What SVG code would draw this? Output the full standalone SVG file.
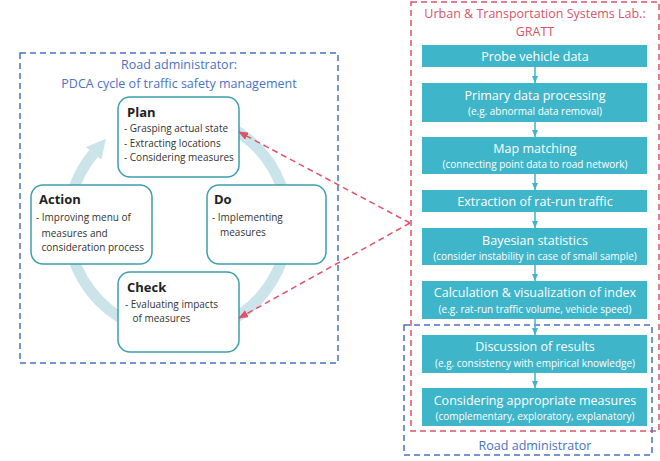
<svg xmlns="http://www.w3.org/2000/svg" width="660" height="461" viewBox="0 0 660 461">
<defs>
<style>
.t{font-family:"Open Sans","Noto Sans","Liberation Sans",sans-serif;}
.ttl{font-size:12.5px;fill:#4a72c4;text-anchor:middle;}
.rttl{font-size:12.5px;fill:#d9536a;text-anchor:middle;}
.node{fill:#fff;stroke:#3c9fae;stroke-width:1.5;}
.nh{font-size:13px;font-weight:bold;fill:#222;}
.nl{font-size:10px;fill:#333;}
.step{fill:#3fb5c9;}
.sm{font-size:12.5px;fill:#fff;text-anchor:middle;}
.ss{font-size:10px;fill:#fff;text-anchor:middle;}
.bdash{fill:none;stroke:#4a72c4;stroke-width:1.5;stroke-dasharray:6 4;}
.rdash{fill:none;stroke:#e0526a;stroke-width:1.5;stroke-dasharray:6 4;}
.sarrow{stroke:#3fb5c9;stroke-width:1.5;fill:none;}
</style>
<marker id="ra" markerWidth="10" markerHeight="8" refX="9" refY="4" orient="auto" markerUnits="userSpaceOnUse">
<path d="M0,0 L10,4 L0,8 Z" fill="#e0526a"/>
</marker>
<marker id="ca" markerWidth="7" markerHeight="6" refX="7" refY="3" orient="auto" markerUnits="userSpaceOnUse">
<path d="M0,0 L7,3 L0,6 Z" fill="#3fb5c9"/>
</marker>
</defs>
<rect width="660" height="461" fill="#fff"/>

<g id="left-frame">
<rect class="bdash" x="20" y="53" width="318" height="310"/>
<text class="t ttl" x="179" y="69">Road administrator:</text>
<text class="t ttl" x="179" y="88">PDCA cycle of traffic safety management</text>
</g>

<g id="cycle-ring">
<path d="M136.8,122 A110,110 0 1 1 93.7,153.3" fill="none" stroke="#cbe4ea" stroke-width="11"/>
<polygon points="86,146.9 101.4,159.7 105.9,138.7" fill="#cbe4ea"/>
</g>

<g id="plan">
<rect class="node" x="118" y="97" width="121" height="80" rx="12"/>
<text class="t nh" x="127" y="117">Plan</text>
<text class="t nl" x="124" y="132">- Grasping actual state</text>
<text class="t nl" x="124" y="146.5">- Extracting locations</text>
<text class="t nl" x="124" y="161">- Considering measures</text>
</g>
<g id="action">
<rect class="node" x="31" y="185" width="121" height="79" rx="12"/>
<text class="t nh" x="39" y="203.5">Action</text>
<text class="t nl" x="36" y="221">- Improving menu of</text>
<text class="t nl" x="41.5" y="236.5">measures and</text>
<text class="t nl" x="41.5" y="251">consideration process</text>
</g>
<g id="do">
<rect class="node" x="207" y="185" width="119" height="79" rx="12"/>
<text class="t nh" x="214" y="203.5">Do</text>
<text class="t nl" x="212" y="221">- Implementing</text>
<text class="t nl" x="220" y="236">measures</text>
</g>
<g id="check">
<rect class="node" x="118" y="272" width="121" height="80" rx="12"/>
<text class="t nh" x="127" y="291.5">Check</text>
<text class="t nl" x="125" y="308">- Evaluating impacts</text>
<text class="t nl" x="132.5" y="322">of measures</text>
</g>

<g id="right-frames">
<rect class="rdash" x="411" y="2" width="248" height="429"/>
<text class="t rttl" x="535" y="18">Urban &amp; Transportation Systems Lab.:</text>
<text class="t rttl" x="535" y="36">GRATT</text>
<rect class="bdash" x="404" y="325" width="248" height="130"/>
<text class="t ttl" x="535" y="450">Road administrator</text>
</g>

<g id="step1"><rect class="step" x="422" y="45" width="225" height="22"/><text class="t sm" x="535" y="60.5">Probe vehicle data</text></g>
<g id="step2"><rect class="step" x="422" y="83" width="225" height="39"/><text class="t sm" x="535" y="100">Primary data processing</text><text class="t ss" x="535" y="114.5">(e.g. abnormal data removal)</text></g>
<g id="step3"><rect class="step" x="422" y="137" width="225" height="37"/><text class="t sm" x="535" y="152.5">Map matching</text><text class="t ss" x="535" y="168">(connecting point data to road network)</text></g>
<g id="step4"><rect class="step" x="422" y="190" width="225" height="22"/><text class="t sm" x="535" y="206">Extraction of rat-run traffic</text></g>
<g id="step5"><rect class="step" x="422" y="228" width="225" height="37"/><text class="t sm" x="535" y="245">Bayesian statistics</text><text class="t ss" x="535" y="260">(consider instability in case of small sample)</text></g>
<g id="step6"><rect class="step" x="422" y="281" width="225" height="38"/><text class="t sm" x="535" y="297">Calculation &amp; visualization of index</text><text class="t ss" x="535" y="312.5">(e.g. rat-run traffic volume, vehicle speed)</text></g>
<g id="step7"><rect class="step" x="422" y="335" width="225" height="38"/><text class="t sm" x="535" y="351">Discussion of results</text><text class="t ss" x="535" y="366.5">(e.g. consistency with empirical knowledge)</text></g>
<g id="step8"><rect class="step" x="422" y="388" width="225" height="38"/><text class="t sm" x="535" y="404.5">Considering appropriate measures</text><text class="t ss" x="535" y="419.5">(complementary, exploratory, explanatory)</text></g>

<g id="connectors">
<line class="sarrow" x1="535" y1="67" x2="535" y2="83" marker-end="url(#ca)"/>
<line class="sarrow" x1="535" y1="122" x2="535" y2="137" marker-end="url(#ca)"/>
<line class="sarrow" x1="535" y1="174" x2="535" y2="190" marker-end="url(#ca)"/>
<line class="sarrow" x1="535" y1="212" x2="535" y2="228" marker-end="url(#ca)"/>
<line class="sarrow" x1="535" y1="265" x2="535" y2="281" marker-end="url(#ca)"/>
<line class="sarrow" x1="535" y1="319" x2="535" y2="335" marker-end="url(#ca)"/>
<line class="sarrow" x1="535" y1="373" x2="535" y2="388" marker-end="url(#ca)"/>
<path class="rdash" d="M410,223 L239,132" marker-end="url(#ra)"/>
<path class="rdash" d="M410,223 L239,318" marker-end="url(#ra)"/>
</g>
</svg>
